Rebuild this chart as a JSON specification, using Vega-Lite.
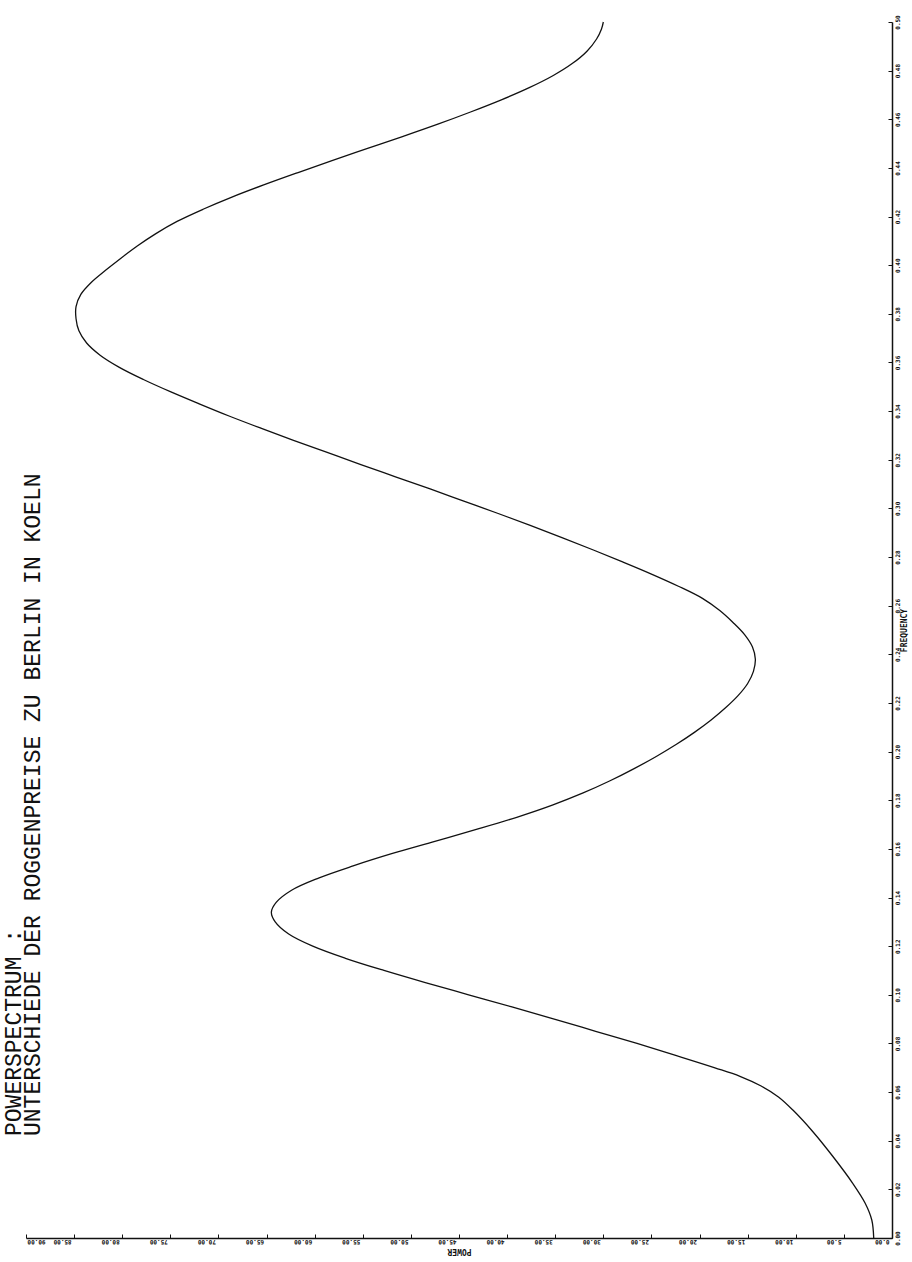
{
  "$schema": "https://vega.github.io/schema/vega-lite/v6.json",
  "width": 866,
  "height": 1216,
  "autosize": {"type": "none"},
  "padding": {"left": 26, "top": 22, "right": 20, "bottom": 24},
  "background": "white",
  "title": {
    "text": "POWERSPECTRUM :",
    "subtitle": "UNTERSCHIEDE DER ROGGENPREISE ZU BERLIN IN KOELN",
    "orient": "left",
    "anchor": "start",
    "offset": -19,
    "dx": 118,
    "font": "Liberation Mono",
    "subtitleFont": "Liberation Mono",
    "fontSize": 23,
    "subtitleFontSize": 23,
    "fontWeight": "normal",
    "color": "#111111",
    "subtitleColor": "#111111",
    "subtitlePadding": -4
  },
  "data": {
    "values": [
      {"freq": 0.0000, "power": 1.9},
      {"freq": 0.0074, "power": 2.1},
      {"freq": 0.0144, "power": 2.8},
      {"freq": 0.0226, "power": 4.1},
      {"freq": 0.0333, "power": 6.1},
      {"freq": 0.0436, "power": 8.2},
      {"freq": 0.0526, "power": 10.3},
      {"freq": 0.0580, "power": 11.8},
      {"freq": 0.0625, "power": 13.6},
      {"freq": 0.0665, "power": 15.8},
      {"freq": 0.0700, "power": 18.4},
      {"freq": 0.0750, "power": 22.4},
      {"freq": 0.0800, "power": 26.5},
      {"freq": 0.0850, "power": 30.8},
      {"freq": 0.0900, "power": 35.1},
      {"freq": 0.0950, "power": 39.5},
      {"freq": 0.1000, "power": 44.0},
      {"freq": 0.1050, "power": 48.5},
      {"freq": 0.1100, "power": 52.8},
      {"freq": 0.1150, "power": 56.8},
      {"freq": 0.1200, "power": 60.2},
      {"freq": 0.1250, "power": 62.7},
      {"freq": 0.1300, "power": 64.1},
      {"freq": 0.1340, "power": 64.5},
      {"freq": 0.1380, "power": 64.0},
      {"freq": 0.1430, "power": 62.4},
      {"freq": 0.1480, "power": 59.6},
      {"freq": 0.1530, "power": 56.0},
      {"freq": 0.1580, "power": 52.0},
      {"freq": 0.1630, "power": 47.6},
      {"freq": 0.1680, "power": 43.2},
      {"freq": 0.1730, "power": 39.0},
      {"freq": 0.1780, "power": 35.3},
      {"freq": 0.1830, "power": 32.1},
      {"freq": 0.1880, "power": 29.3},
      {"freq": 0.1930, "power": 26.8},
      {"freq": 0.1980, "power": 24.5},
      {"freq": 0.2030, "power": 22.4},
      {"freq": 0.2080, "power": 20.5},
      {"freq": 0.2130, "power": 18.8},
      {"freq": 0.2180, "power": 17.3},
      {"freq": 0.2230, "power": 16.0},
      {"freq": 0.2280, "power": 15.0},
      {"freq": 0.2330, "power": 14.4},
      {"freq": 0.2380, "power": 14.2},
      {"freq": 0.2430, "power": 14.5},
      {"freq": 0.2480, "power": 15.3},
      {"freq": 0.2530, "power": 16.5},
      {"freq": 0.2580, "power": 17.9},
      {"freq": 0.2630, "power": 19.7},
      {"freq": 0.2680, "power": 22.2},
      {"freq": 0.2730, "power": 25.0},
      {"freq": 0.2780, "power": 28.0},
      {"freq": 0.2830, "power": 31.1},
      {"freq": 0.2880, "power": 34.3},
      {"freq": 0.2930, "power": 37.6},
      {"freq": 0.2980, "power": 41.0},
      {"freq": 0.3030, "power": 44.5},
      {"freq": 0.3080, "power": 48.0},
      {"freq": 0.3130, "power": 51.6},
      {"freq": 0.3180, "power": 55.2},
      {"freq": 0.3230, "power": 58.7},
      {"freq": 0.3280, "power": 62.2},
      {"freq": 0.3330, "power": 65.6},
      {"freq": 0.3380, "power": 68.9},
      {"freq": 0.3430, "power": 72.0},
      {"freq": 0.3480, "power": 75.0},
      {"freq": 0.3530, "power": 77.8},
      {"freq": 0.3580, "power": 80.3},
      {"freq": 0.3630, "power": 82.3},
      {"freq": 0.3680, "power": 83.7},
      {"freq": 0.3730, "power": 84.5},
      {"freq": 0.3780, "power": 84.8},
      {"freq": 0.3830, "power": 84.8},
      {"freq": 0.3880, "power": 84.3},
      {"freq": 0.3930, "power": 83.2},
      {"freq": 0.3980, "power": 81.7},
      {"freq": 0.4030, "power": 80.1},
      {"freq": 0.4080, "power": 78.4},
      {"freq": 0.4130, "power": 76.5},
      {"freq": 0.4180, "power": 74.3},
      {"freq": 0.4230, "power": 71.6},
      {"freq": 0.4280, "power": 68.6},
      {"freq": 0.4330, "power": 65.3},
      {"freq": 0.4380, "power": 61.8},
      {"freq": 0.4430, "power": 58.2},
      {"freq": 0.4480, "power": 54.5},
      {"freq": 0.4530, "power": 50.8},
      {"freq": 0.4580, "power": 47.2},
      {"freq": 0.4630, "power": 43.8},
      {"freq": 0.4680, "power": 40.6},
      {"freq": 0.4730, "power": 37.7},
      {"freq": 0.4780, "power": 35.2},
      {"freq": 0.4830, "power": 33.2},
      {"freq": 0.4880, "power": 31.7},
      {"freq": 0.4930, "power": 30.7},
      {"freq": 0.4970, "power": 30.2},
      {"freq": 0.5000, "power": 30.0}
    ]
  },
  "mark": {"type": "line", "color": "#111111", "strokeWidth": 1.3, "interpolate": "catmull-rom"},
  "encoding": {
    "order": {"field": "freq", "type": "quantitative"},
    "x": {
      "field": "power",
      "type": "quantitative",
      "scale": {"domain": [0, 90], "reverse": true, "nice": false, "zero": false},
      "axis": {
        "orient": "bottom",
        "title": "POWER",
        "titleAngle": 180,
        "titleBaseline": "bottom",
        "titleFont": "DejaVu Sans Mono",
        "titleFontSize": 8,
        "titleFontWeight": "bold",
        "titleColor": "#111111",
        "titlePadding": 2,
        "values": [0, 5, 10, 15, 20, 25, 30, 35, 40, 45, 50, 55, 60, 65, 70, 75, 80, 85, 90],
        "format": ".2f",
        "labelAngle": 180,
        "labelAlign": {"condition": {"test": "datum.value == 90", "value": "right"}, "value": "left"},
        "labelBaseline": "bottom",
        "labelOffset": {"condition": {"test": "datum.value == 90", "value": 1}, "value": -3},
        "labelPadding": 4,
        "labelFont": "DejaVu Sans Mono",
        "labelFontSize": 6,
        "labelFontWeight": "bold",
        "labelColor": "#111111",
        "labelFlush": false,
        "labelOverlap": false,
        "tickSize": -4,
        "tickColor": "#111111",
        "domainColor": "#111111",
        "domainWidth": 1.5,
        "grid": false
      }
    },
    "y": {
      "field": "freq",
      "type": "quantitative",
      "scale": {"domain": [0, 0.5], "nice": false, "zero": false},
      "axis": {
        "orient": "right",
        "title": "FREQUENCY",
        "titleAngle": 270,
        "titleFont": "DejaVu Sans Mono",
        "titleFontSize": 8,
        "titleFontWeight": "bold",
        "titleColor": "#111111",
        "titleBaseline": "top",
        "titlePadding": 0,
        "values": [0, 0.02, 0.04, 0.06, 0.08, 0.1, 0.12, 0.14, 0.16, 0.18, 0.2, 0.22, 0.24, 0.26, 0.28, 0.3, 0.32, 0.34, 0.36, 0.38, 0.4, 0.42, 0.44, 0.46, 0.48, 0.5],
        "format": ".2f",
        "labelAngle": 270,
        "labelAlign": "center",
        "labelBaseline": "top",
        "labelPadding": 6,
        "labelFont": "DejaVu Sans Mono",
        "labelFontSize": 6,
        "labelFontWeight": "bold",
        "labelColor": "#111111",
        "labelFlush": false,
        "labelOverlap": false,
        "tickSize": -4,
        "tickColor": "#111111",
        "domainColor": "#111111",
        "domainWidth": 1.5,
        "grid": false
      }
    }
  },
  "config": {"view": {"stroke": null}}
}
